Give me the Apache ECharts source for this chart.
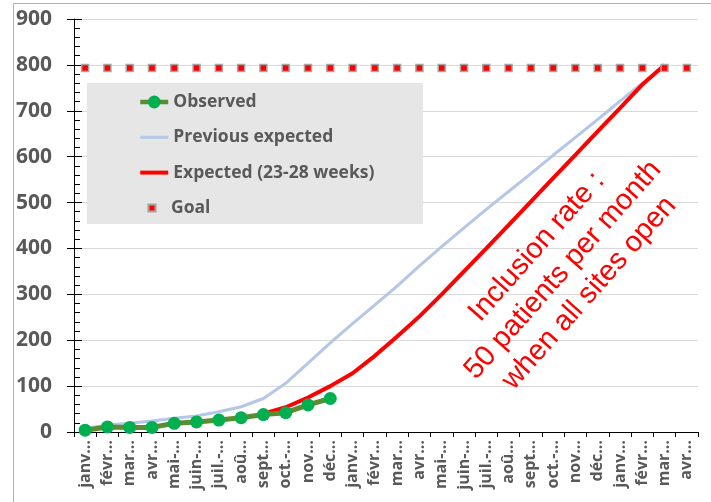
<!DOCTYPE html>
<html><head><meta charset="utf-8">
<script src="https://cdn.jsdelivr.net/npm/echarts@6/dist/echarts.min.js"></script>
<style>html,body{margin:0;padding:0;background:#fff}#c{width:711px;height:502px}</style>
</head><body><div id="c"></div>
<script>
const categories = ['janv…','févr…','mar…','avr…','mai-…','juin-…','juil.-…','aoû…','sept…','oct.-…','nov…','déc…',
  'janv…','févr…','mar…','avr…','mai-…','juin-…','juil.-…','aoû…','sept…','oct.-…','nov…','déc…',
  'janv…','févr…','mar…','avr…'];
const observed = [4, 11, 10, 10, 19, 22, 26, 31, 38, 42, 59, 73,
  null,null,null,null,null,null,null,null,null,null,null,null,null,null,null,null];
const previousExpected = [8, 15, 19, 24, 30, 35, 44, 55, 73, 106, 150, 194,
  236, 277, 318, 362, 404, 445, 485, 524, 563, 603, 642, 681, 721, 760, null, null];
const expected = [null,null,null,null,null,null,null,null, 40, 54, 75, 100,
  128, 166, 208, 252, 300, 350, 400, 451, 502, 553, 604, 655, 706, 757, 800, null];
const goal = [793,793,793,793,793,793,793,793,793,793,793,793,793,793,
  793,793,793,793,793,793,793,793,793,793,793,793,793,793];
const yMin = 0, yMax = 900, yInterval = 100;
const annotation = 'Inclusion rate :\n50 patients per month\nwhen all sites open';

const chart = echarts.init(document.getElementById('c'), null, {renderer:'canvas'});
const labelFont = '"Open Sans", "DejaVu Sans", sans-serif';
chart.setOption({
  animation: false,
  backgroundColor: '#fff',
  grid: {left: 74, right: 13, top: 19, bottom: 70, containLabel: false, outerBoundsMode: 'none'},
  xAxis: {
    type: 'category', data: categories, boundaryGap: true,
    axisLine: {lineStyle: {color: '#000', width: 1}},
    axisTick: {show: true, length: 5, lineStyle: {color: '#000'}, alignWithLabel: false},
    axisLabel: {rotate: 90, interval: 0, margin: 8, color: '#595959', fontFamily: labelFont, fontWeight: 'bold', fontSize: 16},
    splitLine: {show: false}
  },
  yAxis: [{
    type: 'value', min: yMin, max: yMax, interval: yInterval, position: 'left',
    axisLine: {show: true, lineStyle: {color: '#000', width: 1}},
    axisTick: {show: true, length: 7, lineStyle: {color: '#000'}},
    axisLabel: {margin: 22, color: '#595959', fontFamily: labelFont, fontWeight: 'bold', fontSize: 21},
    splitLine: {show: true, lineStyle: {color: '#d9d9d9', width: 1}}
  }, {
    type: 'value', min: yMin, max: yMax, interval: yInterval, position: 'left', offset: 0,
    axisLine: {show: false},
    axisTick: {show: true, inside: true, length: 8, lineStyle: {color: '#000'}},
    minorTick: {show: true, splitNumber: 5, length: 6, lineStyle: {color: '#000'}},
    axisLabel: {show: false},
    splitLine: {show: false}
  }],
  legend: [{
    left: 138, top: 93, padding: 0, orient: 'vertical', itemWidth: 28, itemHeight: 16, itemGap: 17.3,
    selectedMode: false,
    lineStyle: {width: 'inherit'},
    textStyle: {color: '#595959', fontFamily: labelFont, fontWeight: 'bold', fontSize: 17.5, lineHeight: 18},
    data: [
      {name: 'Observed', lineStyle: {width: 4.5}},
      {name: 'Previous expected', itemStyle: {opacity: 0}, lineStyle: {width: 3}},
      {name: 'Expected (23-28 weeks)', itemStyle: {opacity: 0}, lineStyle: {width: 4}}
    ]
  }, {
    left: 138, top: 199, padding: 0, orient: 'vertical', itemWidth: 28, itemHeight: 9,
    selectedMode: false,
    textStyle: {color: '#595959', fontFamily: labelFont, fontWeight: 'bold', fontSize: 17.5, lineHeight: 18},
    data: ['Goal']
  }],
  graphic: [
    {type: 'rect', silent: true, z: -1, shape: {x: 13.5, y: 3.5, width: 720, height: 520},
     style: {fill: 'none', stroke: '#b0b0b0', lineWidth: 1}},
    {type: 'rect', silent: true, z: 1, shape: {x: 87, y: 83, width: 336, height: 141},
     style: {fill: '#e6e6e6'}},
    {type: 'text', silent: true, z: 5, x: 563, y: 270, rotation: 48.5 * Math.PI / 180,
     style: {text: annotation, fill: '#ff0000', font: '29px "Liberation Sans", Arial, sans-serif',
       align: 'center', verticalAlign: 'middle', textAlign: 'center', textVerticalAlign: 'middle', lineHeight: 35}}
  ],
  series: [
    {name: 'Previous expected', type: 'line', data: previousExpected, symbol: 'none', z: 2,
     lineStyle: {color: '#b4c7e7', width: 3}, itemStyle: {color: '#b4c7e7'}},
    {name: 'Expected (23-28 weeks)', type: 'line', data: expected, symbol: 'none', z: 3,
     lineStyle: {color: '#ff0000', width: 4}, itemStyle: {color: '#ff0000'}},
    {name: 'Observed', type: 'line', data: observed, symbol: 'circle', symbolSize: 13, z: 4,
     lineStyle: {color: '#5b8c32', width: 5}, itemStyle: {color: '#00b050'}},
    {name: 'Goal', type: 'line', data: goal, symbol: 'rect', symbolSize: 7, z: 5,
     lineStyle: {width: 0, opacity: 0},
     itemStyle: {color: '#ff0000', borderColor: '#a6a6a6', borderWidth: 1.5}}
  ]
});
</script></body></html>
